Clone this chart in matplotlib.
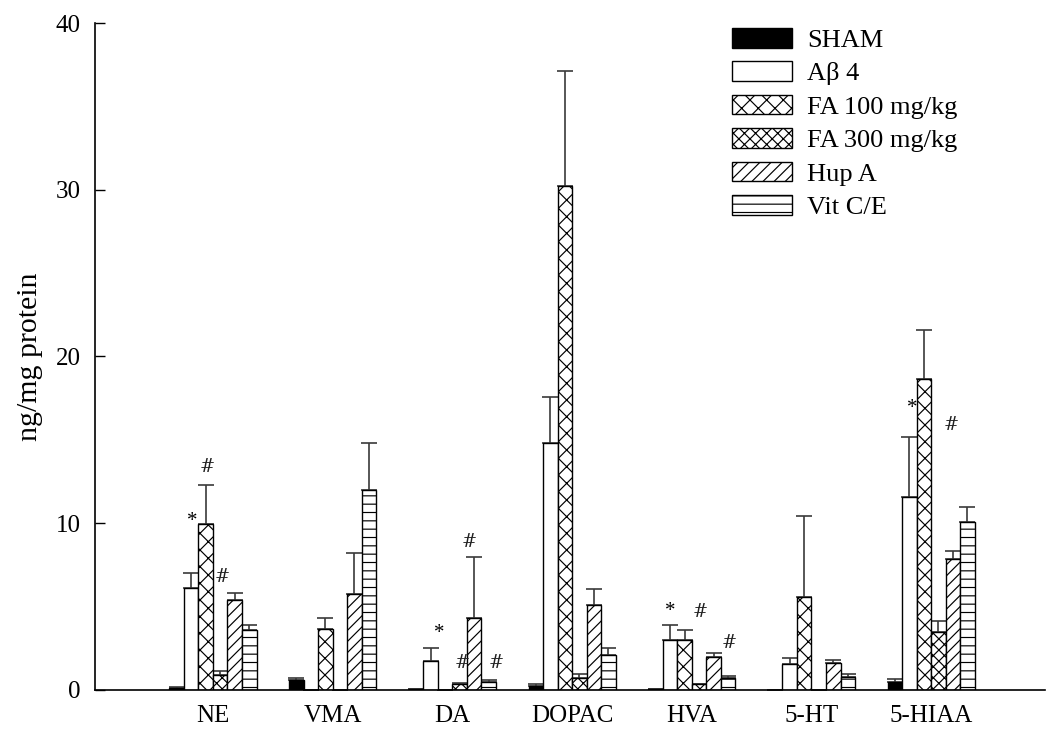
import numpy as np
import matplotlib as mpl
mpl.use("Agg")
import matplotlib.pyplot as plt

mpl.rcParams.update({
    "font.family": ["Liberation Serif", "DejaVu Serif"],
    "hatch.linewidth": 0.85,
    "axes.linewidth": 1.2,
})

# ---- data (ng/mg protein, mean and upper SEM) ----
categories = ["NE", "VMA", "DA", "DOPAC", "HVA", "5-HT", "5-HIAA"]
groups = ["SHAM", "Aβ 4", "FA 100 mg/kg", "FA 300 mg/kg", "Hup A", "Vit C/E"]

sham      = [0.10, 0.60, 0.05, 0.24, 0.05, 0.00, 0.50]
sham_err  = [0.07, 0.14, 0.00, 0.10, 0.00, 0.00, 0.16]
abeta     = [6.10, 0.00, 1.76, 14.79, 3.00, 1.56, 11.59]
abeta_err = [0.93, 0.00, 0.74, 2.76, 0.92, 0.38, 3.56]
fa100     = [9.97, 3.64, 0.00, 30.24, 3.00, 5.60, 18.65]
fa100_err = [2.34, 0.70, 0.00, 6.90, 0.58, 4.83, 2.95]
fa300     = [0.92, 0.00, 0.38, 0.74, 0.34, 0.00, 3.50]
fa300_err = [0.24, 0.00, 0.05, 0.22, 0.04, 0.00, 0.66]
hup       = [5.38, 5.74, 4.30, 5.10, 2.00, 1.60, 7.84]
hup_err   = [0.42, 2.49, 3.70, 0.94, 0.24, 0.20, 0.50]
vitc      = [3.58, 11.99, 0.50, 2.08, 0.74, 0.80, 10.10]
vitc_err  = [0.34, 2.84, 0.08, 0.42, 0.12, 0.16, 0.89]

means = [sham, abeta, fa100, fa300, hup, vitc]
errs = [sham_err, abeta_err, fa100_err, fa300_err, hup_err, vitc_err]

# significance marks: (symbol, x in category units, y value)
marks = [
    ("*", -0.17, 10.1), ("#", -0.05, 13.4), ("#", 0.08, 6.8),
    ("*", 1.89, 3.4), ("#", 2.14, 8.9), ("#", 2.08, 1.6), ("#", 2.37, 1.6),
    ("*", 3.82, 4.7), ("#", 4.07, 4.7), ("#", 4.31, 2.8),
    ("*", 5.84, 16.9), ("#", 6.17, 15.9),
]

styles = [
    dict(facecolor="black", hatch=None),
    dict(facecolor="white", hatch=None),
    dict(facecolor="white", hatch="xx"),
    dict(facecolor="white", hatch="xxx"),
    dict(facecolor="white", hatch="///"),
    dict(facecolor="white", hatch="--"),
]

fig = plt.figure(figsize=(10.47, 7.33), dpi=100)
ax = fig.add_axes([0.0907, 0.0587, 0.9073, 0.9099])

x = np.arange(len(categories))
w = 0.1212
handles = []
for j, (m, e, st) in enumerate(zip(means, errs, styles)):
    e = np.array(e)
    b = ax.bar(x + (j - 2.5) * w, m, width=w, color=st["facecolor"],
               hatch=st["hatch"], edgecolor="black", linewidth=1.0,
               label=groups[j], zorder=2)
    ax.errorbar(x + (j - 2.5) * w, m, yerr=[np.zeros_like(e), e],
                fmt="none", ecolor="#3a3a3a", elinewidth=1.2,
                capsize=5.8, capthick=1.2, zorder=1)
    handles.append(b)

for sym, xm, ym in marks:
    if sym == "#":
        ax.text(xm, ym, sym, fontsize=13, ha="center", va="center",
                family="DejaVu Serif", color="#222222")
    else:
        ax.text(xm, ym, sym, fontsize=15, ha="center", va="center")

ax.set_xlim(-0.986, 6.95)
ax.set_ylim(0, 40)
ax.set_yticks([0, 10, 20, 30, 40])
ax.set_xticks(x)
ax.set_xticklabels(categories)
ax.tick_params(axis="x", length=0, pad=11, labelsize=18)
ax.tick_params(axis="y", direction="in", length=7, width=1.0,
               pad=10.5, labelsize=18)
ax.spines["top"].set_visible(False)
ax.spines["right"].set_visible(False)
ax.set_ylabel("ng/mg protein", fontsize=21.5, labelpad=9)

ax.legend(handles=handles, loc="upper left",
          bbox_to_anchor=(732 / 1047, 1 - 28 / 733),
          bbox_transform=fig.transFigure, frameon=False,
          fontsize=19, borderpad=0, borderaxespad=0,
          handlelength=2.27, handleheight=0.76, handletextpad=0.57,
          labelspacing=0.36)

fig.savefig("out.png", dpi=100)
